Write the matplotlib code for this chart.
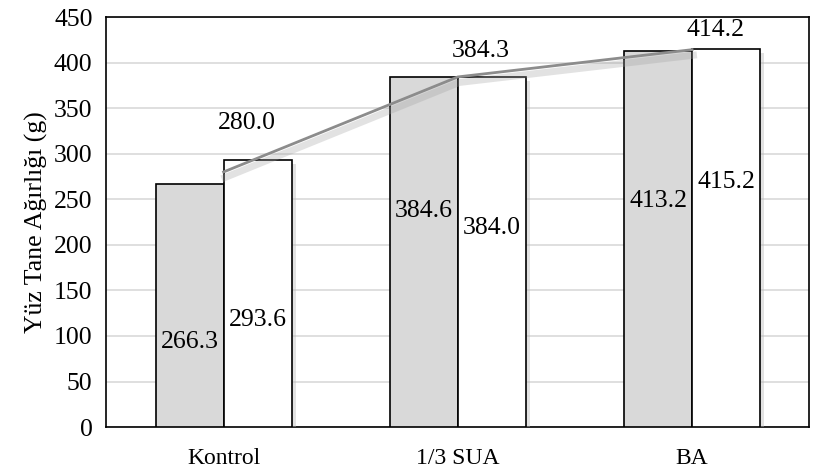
import matplotlib.pyplot as plt
import matplotlib.patheffects as pe
import numpy as np

plt.rcParams['font.family'] = ['Liberation Serif', 'DejaVu Serif']

# data
categories = ["Kontrol", "1/3 SUA", "BA"]
series_gray = [266.3, 384.6, 413.2]
series_white = [293.6, 384.0, 415.2]
mean_line = [280.0, 384.3, 414.2]

# label positions (y in data units)
gray_label_y = [93, 237, 248]
white_label_y = [117, 219, 269]
line_label_y = [334, 413, 436]

x = np.arange(len(categories))
w = 0.29
fs = 18.5

fig, ax = plt.subplots(figsize=(8.19, 4.74), dpi=100)
fig.subplots_adjust(left=0.13, right=0.988, top=0.964, bottom=0.099)

shadow = [pe.SimplePatchShadow(offset=(3, -3), shadow_rgbFace='#b8b8b8', alpha=0.4), pe.Normal()]
ax.bar(x - w / 2, series_gray, w, color='#d9d9d9', edgecolor='black', linewidth=1.2,
       zorder=3, path_effects=shadow)
ax.bar(x + w / 2, series_white, w, color='white', edgecolor='black', linewidth=1.2,
       zorder=3, path_effects=shadow)

ax.plot(x, mean_line, color='#8c8c8c', linewidth=2, zorder=4,
        path_effects=[pe.SimpleLineShadow(offset=(1, -4), shadow_color='#a0a0a0', alpha=0.3, linewidth=5),
                      pe.Normal()])

for i in range(len(x)):
    ax.text(x[i] - w / 2, gray_label_y[i], f"{series_gray[i]:.1f}", ha='center', va='center',
            fontsize=fs, zorder=5)
    ax.text(x[i] + w / 2, white_label_y[i], f"{series_white[i]:.1f}", ha='center', va='center',
            fontsize=fs, zorder=5)
    ax.text(x[i] + 0.1, line_label_y[i], f"{mean_line[i]:.1f}", ha='center', va='center',
            fontsize=fs, zorder=5)

ax.set_xlim(-0.5, 2.5)
ax.set_ylim(0, 450)
ax.set_yticks(np.arange(0, 451, 50))
ax.set_xticks(x)
ax.set_xticklabels(categories)
ax.tick_params(axis='both', length=0, labelsize=fs)
ax.tick_params(axis='x', pad=15, labelsize=17)
ax.tick_params(axis='y', pad=10)
ax.yaxis.grid(True, color='#d9d9d9', linewidth=1.2, zorder=0)
ax.set_axisbelow(True)
for s in ax.spines.values():
    s.set_linewidth(1.2)
ax.set_ylabel("Yüz Tane Ağırlığı (g)", fontsize=fs, labelpad=4)

plt.savefig("out.png")
